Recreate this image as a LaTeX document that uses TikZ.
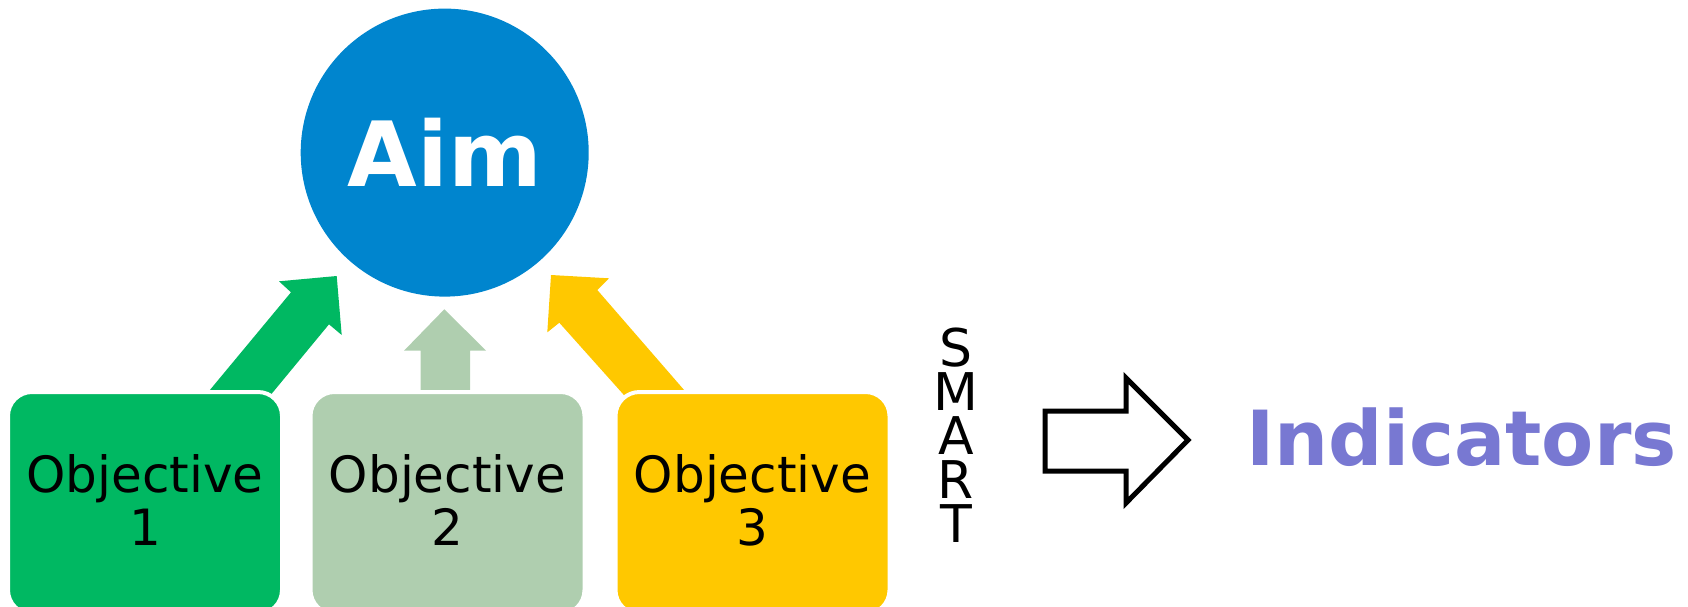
\documentclass[tikz,border=0pt]{standalone}
\usepackage{fontspec}
\setmainfont{DejaVu Sans}
\definecolor{aimblue}{HTML}{0085CE}
\definecolor{objgreen}{HTML}{00B862}
\definecolor{objsage}{HTML}{AFCEAF}
\definecolor{objgold}{HTML}{FFC800}
\definecolor{indpurple}{HTML}{7878D2}
\begin{document}
\begin{tikzpicture}[x=1pt,y=-1pt,
  objbox/.style={rectangle, rounded corners=24pt, draw=white, line width=4pt,
    minimum width=274pt, minimum height=222pt, inner sep=0pt},
  objtxt/.style={anchor=base, inner sep=0pt, font=\fontsize{50}{52}\selectfont},
  smarttxt/.style={anchor=north, inner sep=0pt, align=center,
    font=\fontsize{52}{44}\selectfont},
  blockarrow/.style={line join=miter}]
\useasboundingbox (0,0) rectangle (1688,606);

% Aim circle
\node[circle, fill=aimblue, minimum size=288pt, inner sep=0pt, text=white,
      font=\bfseries\fontsize{90}{90}\selectfont] (aim) at (444.7,152.6) {Aim};

% arrows toward the aim
\fill[objgreen, blockarrow] (204.9,396) -- (291,292.3) -- (279,281.3) -- (336.7,276)
   -- (341.7,335) -- (329,324.3) -- (269.8,396) -- cycle;
\fill[objsage, blockarrow] (420.7,396) -- (420.7,350.7) -- (404,350.7) -- (444.3,309.3)
   -- (486,350.5) -- (470,350.5) -- (470,396) -- cycle;
\fill[objgold, blockarrow] (624.8,396) -- (559.3,322.7) -- (547.3,332.3) -- (551,275)
   -- (609,278.3) -- (597.3,290) -- (689.3,396) -- cycle;

% objective boxes
\node[objbox, fill=objgreen] (ob1) at (145,503) {};
\node[objbox, fill=objsage]  (ob2) at (447.5,503) {};
\node[objbox, fill=objgold]  (ob3) at (752.5,503) {};

\node[objtxt] (ob1a) at (145,492.7) {Objective};
\node[objtxt] (ob1b) at (145,545) {1};
\node[objtxt] (ob2a) at (447.5,492.7) {Objective};
\node[objtxt] (ob2b) at (447.5,545) {2};
\node[objtxt] (ob3a) at (752.5,492.7) {Objective};
\node[objtxt] (ob3b) at (752.5,545) {3};

% SMART
\node[smarttxt] (smart) at (956,327.5) {S\\M\\A\\R\\T};

% block arrow
\draw[line width=5pt, fill=white, blockarrow] (1045,411) -- (1126,411) -- (1126,378)
   -- (1188,440) -- (1126,503) -- (1126,471) -- (1045,471) -- cycle;

% Indicators
\node[anchor=base, inner sep=0pt, text=indpurple,
      font=\bfseries\fontsize{76}{76}\selectfont] (ind) at (1461.5,465) {Indicators};
\end{tikzpicture}
\end{document}
